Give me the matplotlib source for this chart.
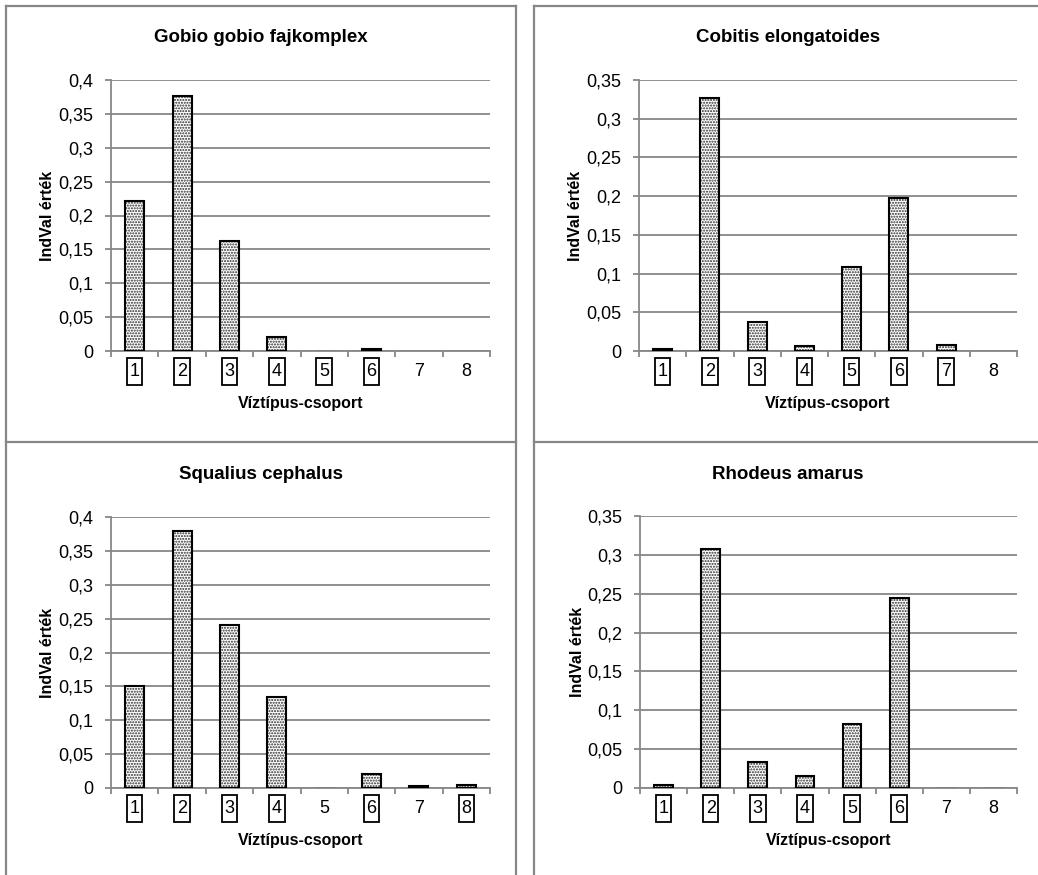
import numpy as np
import matplotlib
matplotlib.use('Agg')
import matplotlib.pyplot as plt
from matplotlib.path import Path
from matplotlib.lines import Line2D

groups = [1, 2, 3, 4, 5, 6, 7, 8]

gobio_vals = [0.222, 0.377, 0.162, 0.020, 0.0005, 0.003, 0, 0]
cobitis_vals = [0.002, 0.327, 0.037, 0.006, 0.109, 0.198, 0.008, 0]
squalius_vals = [0.150, 0.380, 0.241, 0.134, 0.0005, 0.021, 0.0035, 0.0045]
rhodeus_vals = [0.004, 0.308, 0.034, 0.0155, 0.082, 0.245, 0.0005, 0.0005]

gobio_boxed = [1, 2, 3, 4, 5, 6]
cobitis_boxed = [1, 2, 3, 4, 5, 6, 7]
squalius_boxed = [1, 2, 3, 4, 6, 8]
rhodeus_boxed = [1, 2, 3, 4, 5, 6]

titles = ['Gobio gobio fajkomplex', 'Cobitis elongatoides',
          'Squalius cephalus', 'Rhodeus amarus']
ytops = [0.4, 0.35, 0.4, 0.35]
ysteps = [0.05, 0.05, 0.05, 0.05]
ylabel = 'IndVal érték'
xlabel = 'Víztípus-csoport'

W, H = 1038, 875
GRAY = '#878787'
FONT = ['Liberation Sans', 'DejaVu Sans']


def fx(px):
    return px / W


def fy(py):
    return 1 - py / H


def label_box(x0, y0, width, height, mutation_size):
    # tall thin frame around the boxed group numbers
    padx = 0.15 * mutation_size
    pady = 0.26 * mutation_size
    x0, y0 = x0 - padx, y0 - pady
    x1, y1 = x0 + width + 2 * padx, y0 + height + 2 * pady
    return Path([(x0, y0), (x1, y0), (x1, y1), (x0, y1), (x0, y0)], closed=True)


fig = plt.figure(figsize=(W / 100, H / 100), dpi=100)

# panel frames
frame = dict(color=GRAY, lw=1.6, transform=fig.transFigure)
fig.add_artist(Line2D([fx(6), fx(6)], [fy(6), 0], **frame))
fig.add_artist(Line2D([fx(516), fx(516)], [fy(6), 0], **frame))
fig.add_artist(Line2D([fx(534), fx(534)], [fy(6), 0], **frame))
fig.add_artist(Line2D([fx(6), fx(516)], [fy(6), fy(6)], **frame))
fig.add_artist(Line2D([fx(534), 1], [fy(6), fy(6)], **frame))
fig.add_artist(Line2D([fx(6), fx(516)], [fy(442), fy(442)], **frame))
fig.add_artist(Line2D([fx(534), 1], [fy(442), fy(442)], **frame))

panels = [
    (gobio_vals, gobio_boxed, (111, 490, 80, 351), 261, 38),
    (cobitis_vals, cobitis_boxed, (639, 1017, 80, 351), 788, 38),
    (squalius_vals, squalius_boxed, (111, 490, 517, 788), 261, 475),
    (rhodeus_vals, rhodeus_boxed, (640, 1017, 516, 788), 788, 475),
]

for i, (vals, boxed, (l, r, t, b), tx, ty) in enumerate(panels):
    ax = fig.add_axes([fx(l), fy(b), (r - l) / W, (b - t) / H])
    ytop = ytops[i]
    edge_w = [1.5 if v > 0.001 else (0.8 if v > 0 else 0) for v in vals]

    ax.bar(groups, vals, width=0.4, color='white', edgecolor='#2a2a2a',
           hatch='......', linewidth=0, zorder=3)
    ax.bar(groups, vals, width=0.4, fill=False, edgecolor='black',
           linewidth=edge_w, zorder=4)

    ax.set_xlim(0.5, 8.5)
    ax.set_ylim(0, ytop)
    yt = np.round(np.arange(0, ytop + 1e-9, ysteps[i]), 2)
    ax.set_yticks(yt)
    ax.set_yticklabels([f'{v:g}'.replace('.', ',') for v in yt],
                       family=FONT, fontsize=13)
    ax.yaxis.grid(True, color=GRAY, lw=1.3, zorder=0)
    ax.set_axisbelow(True)

    ax.set_xticks(groups)
    ax.set_xticks(np.arange(0.5, 9, 1), minor=True)
    ax.set_xticklabels([str(g) for g in groups], family=FONT, fontsize=13)
    ax.tick_params(axis='x', which='major', length=0, pad=8.5)
    ax.tick_params(axis='x', which='minor', length=4, width=1.3, color=GRAY)
    ax.tick_params(axis='y', length=4, width=1.3, color=GRAY, pad=9)

    for lab, g in zip(ax.get_xticklabels(), groups):
        if g in boxed:
            lab.set_bbox(dict(boxstyle=label_box, fc='white', ec='black', lw=1.3))

    for side in ['top', 'right']:
        ax.spines[side].set_visible(False)
    for side in ['left', 'bottom']:
        ax.spines[side].set_color(GRAY)
        ax.spines[side].set_linewidth(1.3)

    fig.text(fx(tx), fy(ty), titles[i], ha='center', va='center',
             fontsize=13.5, fontweight='bold', family=FONT)
    fig.text(fx((l + r) / 2), fy(b + 52), xlabel, ha='center', va='center',
             fontsize=11.5, fontweight='bold', family=FONT)
    fig.text(fx(l - 63), fy((t + b) / 2), ylabel, ha='center', va='center',
             rotation=90, fontsize=11.5, fontweight='bold', family=FONT)

fig.savefig('out.png', dpi=100)
